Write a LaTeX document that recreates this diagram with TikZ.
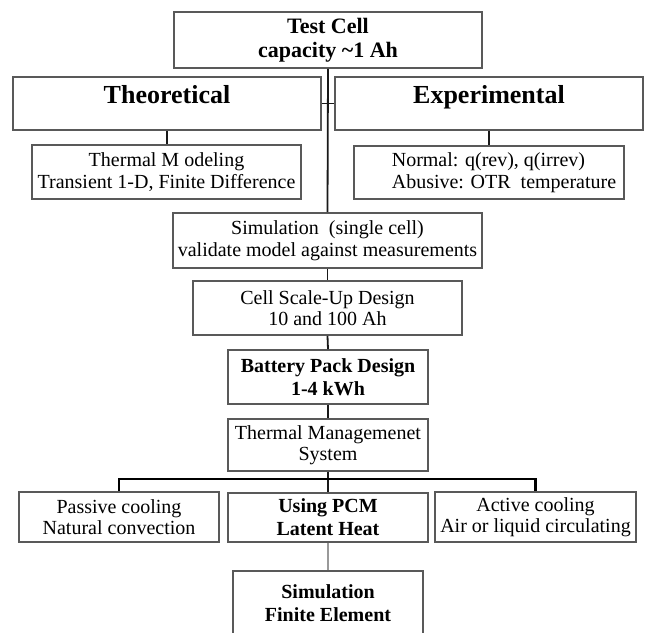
\documentclass[tikz,border=0pt]{standalone}
\usepackage{fontspec}
\setmainfont{Liberation Serif}
\usepackage{tikz}
\usetikzlibrary{calc}

\tikzset{
  box/.style={draw=black!65, line width=1.7pt, fill=white, align=center,
    inner sep=2pt, font=\fontsize{20}{21.5}\selectfont},
  bbox/.style={box, font=\fontsize{20}{23}\selectfont\bfseries},
  link/.style={draw=black!90, line width=1.8pt},
}

\begin{document}
\begin{tikzpicture}[x=1pt, y=-1pt]
    \clip (0,0) rectangle (648,632);
    \fill[white] (0,0) rectangle (648,632);

    % Top level
    \node[bbox, minimum width=308pt, minimum height=56pt,
          font=\fontsize{22}{24}\selectfont\bfseries] (test) at (328,40)
          {Test Cell\\capacity \char`\~1 Ah};
    \node[bbox, minimum width=308pt, minimum height=53pt, text height=18pt, text depth=18pt,
          font=\fontsize{26}{28}\selectfont\bfseries] (theo) at (167,103.5) {Theoretical};
    \node[bbox, minimum width=308pt, minimum height=53pt, text height=18pt, text depth=18pt,
          font=\fontsize{26}{28}\selectfont\bfseries] (exper) at (489,103.5) {Experimental};

    % Second level
    \node[box, minimum width=269pt, minimum height=54pt] (model) at (166.5,172)
          {Thermal M odeling\\Transient 1-D, Finite Difference};
    \node[box, minimum width=270pt, minimum height=53pt, align=left] (meas) at (489,172.5)
          {\hspace*{30pt}Normal: q(rev), q(irrev)\\\hspace*{30pt}Abusive: OTR\ \ temperature};

    % Main chain
    \node[box, minimum width=309pt, minimum height=55pt] (sim) at (327.5,240.5)
          {Simulation\ \ (single cell)\\validate model against measurements};
    \node[box, minimum width=269pt, minimum height=54pt] (scale) at (327.5,308)
          {Cell Scale-Up Design\\10 and 100 Ah};
    \node[bbox, minimum width=200pt, minimum height=54pt] (pack) at (328,377)
          {Battery Pack Design\\1-4 kWh};
    \node[box, minimum width=200pt, minimum height=52pt] (tms) at (328,445)
          {Thermal Managemenet\\System};

    % Cooling options
    \node[box, minimum width=200pt, minimum height=50pt] (passive) at (119,517)
          {Passive cooling\\Natural convection};
    \node[bbox, minimum width=200pt, minimum height=49pt] (pcm) at (328,517.5)
          {Using PCM\\Latent Heat};
    \node[box, minimum width=201pt, minimum height=50pt] (active) at (535.5,517)
          {Active cooling\\Air or liquid circulating};
    \node[bbox, minimum width=190pt, minimum height=64pt] (fe) at (328,603)
          {Simulation\\Finite Element};

    \coordinate (bus) at (328,479);

    % Connectors
    \draw[link] (test.south) -- (sim.north);
    \draw[link] (theo.east) -- (exper.west);
    \draw[link] (theo.south) -- (theo.south |- model.north);
    \draw[link] (exper.south) -- (exper.south |- meas.north);
    \draw[link] (sim.south) -- (scale.north);
    \draw[link] (scale.south) -- (pack.north);
    \draw[link] (pack.south) -- (tms.north);
    \draw[link] (tms.south) -- (pcm.north);
    \draw[link, draw=black, line width=2.2pt] (passive.north) |- (bus) -| (active.north);
    \draw[draw=black!40, line width=1.2pt] (pcm.south) -- (fe.north);
\end{tikzpicture}
\end{document}
